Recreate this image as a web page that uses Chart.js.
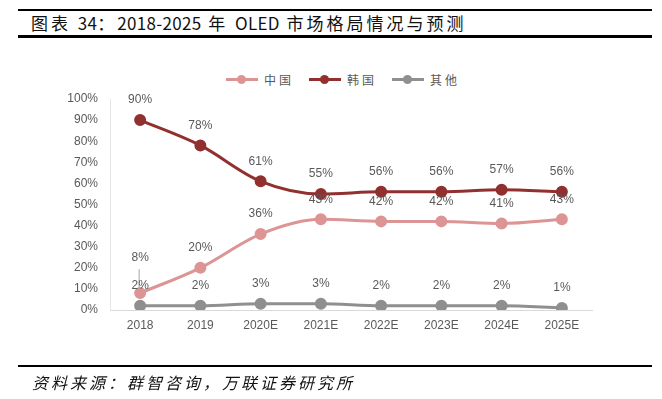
<!DOCTYPE html>
<html>
<head>
<meta charset="utf-8">
<script src="https://cdn.jsdelivr.net/npm/chart.js@4"></script>
<style>
  body { margin: 0; background: #fff; font-family: "Noto Sans CJK SC", sans-serif; }
  #wrap { position: relative; width: 662px; height: 399px; overflow: hidden; }
  #myChart { position: absolute; left: 0; top: 0; }
  .rule { position: absolute; left: 18px; width: 634px; background: #000; }
  .title { position: absolute; left: 31px; top: 10px; font-size: 17px; line-height: 26px; color: #111; letter-spacing: 3px; white-space: nowrap; }
  .title b { font-weight: normal; letter-spacing: 0.3px; }
  .source { position: absolute; left: 32px; top: 370px; font-size: 16px; line-height: 24px; font-style: italic; color: #111; letter-spacing: 3px; }
  .legend { position: absolute; top: 71px; left: 226px; display: flex; font-size: 12px; color: #595959; letter-spacing: 3px; }
  .legend .item { display: flex; align-items: center; margin-right: 15px; }
  .legend .mark { position: relative; width: 32px; height: 3px; margin-right: 6px; }
  .legend .mark i { position: absolute; left: 11px; top: -3px; width: 9px; height: 9px; border-radius: 50%; }
</style>
</head>
<body>
<div id="wrap">
  <div class="rule" style="top:9px;height:2px"></div>
  <div class="title">图表 <b>34</b>：<b>2018-2025</b> 年 <b>OLED</b> 市场格局情况与预测</div>
  <div class="rule" style="top:35px;height:3px"></div>
  <div class="legend" id="legend"></div>
  <canvas id="myChart" width="662" height="399"></canvas>
  <div class="rule" style="top:365px;height:2px"></div>
  <div class="source">资料来源：群智咨询，万联证券研究所</div>
</div>
<script>
var years = ["2018", "2019", "2020E", "2021E", "2022E", "2023E", "2024E", "2025E"];
var china = [8, 20, 36, 43, 42, 42, 41, 43];
var korea = [90, 78, 61, 55, 56, 56, 57, 56];
var others = [2, 2, 3, 3, 2, 2, 2, 1];
var seriesNames = ["中国", "韩国", "其他"];
var seriesColors = ['#dc9494', '#923030', '#8f8f8f'];

var legend = document.getElementById('legend');
seriesNames.forEach(function (name, i) {
  legend.innerHTML += '<div class="item"><span class="mark" style="background:' + seriesColors[i] +
    '"><i style="background:' + seriesColors[i] + '"></i></span>' + name + '</div>';
});

// value labels above each point
var pointLabels = {
  id: 'pointLabels',
  afterDatasetsDraw: function (chart) {
    var ctx = chart.ctx;
    ctx.save();
    ctx.font = '12px "Liberation Sans", Arial, sans-serif';
    ctx.fillStyle = '#595959';
    ctx.textAlign = 'center';
    ctx.textBaseline = 'middle';
    chart.data.datasets.forEach(function (ds, di) {
      chart.getDatasetMeta(di).data.forEach(function (pt, i) {
        var lift = 20;
        if (di === 0 && i === 0) {
          lift = 35;
          ctx.strokeStyle = '#a6a6a6';
          ctx.lineWidth = 1;
          ctx.beginPath();
          ctx.moveTo(pt.x - 1, pt.y - 24);
          ctx.lineTo(pt.x - 1, pt.y - 4);
          ctx.stroke();
        }
        ctx.fillText(ds.data[i] + '%', pt.x, pt.y - lift);
      });
    });
    ctx.restore();
  }
};

var ctx = document.getElementById('myChart').getContext('2d');
var chart = new Chart(ctx, {
  type: 'line',
  data: {
    labels: years,
    datasets: [china, korea, others].map(function (values, i) {
      return {
        label: seriesNames[i],
        data: values,
        borderColor: seriesColors[i],
        backgroundColor: seriesColors[i],
        borderWidth: 3,
        pointRadius: 4.5,
        tension: 0.35,
        cubicInterpolationMode: 'monotone'
      };
    })
  },
  options: {
    responsive: false,
    animation: false,
    layout: { padding: { top: 99, right: 70, left: 0, bottom: 0 } },
    plugins: { legend: { display: false }, tooltip: { enabled: false } },
    scales: {
      x: {
        offset: true,
        grid: { display: false, drawTicks: false },
        border: { color: '#d9d9d9', width: 1 },
        ticks: { color: '#595959', font: { size: 12, family: '"Liberation Sans", Arial' }, padding: 8 },
        afterFit: function (scale) { scale.height = 89; }
      },
      y: {
        min: 0,
        max: 100,
        grid: { display: false, drawTicks: false },
        border: { color: '#e6e6e6', width: 1 },
        ticks: {
          stepSize: 10,
          color: '#595959',
          padding: 12,
          font: { size: 12, family: '"Liberation Sans", Arial' },
          callback: function (v) { return v + '%'; }
        },
        afterFit: function (scale) { scale.width = 110; }
      }
    }
  },
  plugins: [pointLabels]
});
</script>
</body>
</html>
